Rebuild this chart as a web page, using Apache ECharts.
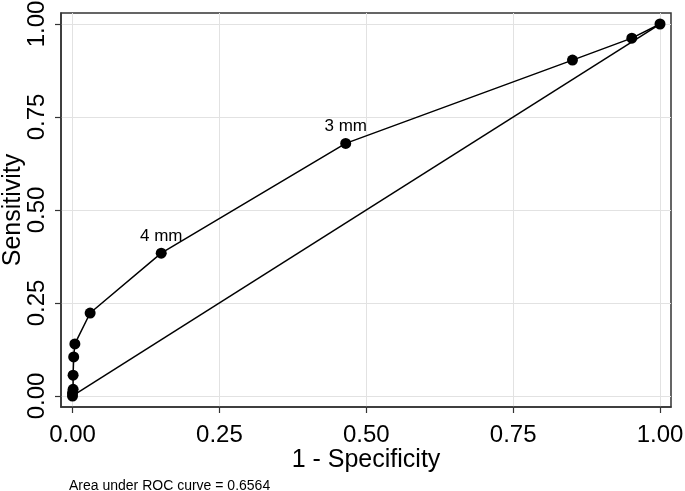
<!DOCTYPE html>
<html>
<head>
<meta charset="utf-8">
<script src="https://cdn.jsdelivr.net/npm/echarts@6/dist/echarts.min.js"></script>
<style>html,body{margin:0;padding:0;background:#fff}#c{width:685px;height:491px}</style>
</head>
<body>
<div id="c"></div>
<script>
// ROC points (1 - specificity, sensitivity)
var rocX = [0, 0, 0.001, 0.001, 0.002, 0.004, 0.030, 0.151, 0.465, 0.851, 0.952, 1];
var rocY = [0, 0.008, 0.018, 0.056, 0.105, 0.140, 0.223, 0.384, 0.679, 0.903, 0.962, 1];
var pointLabels = ['', '', '', '', '', '', '', '4 mm', '3 mm', '', '', ''];
var refX = [0, 1];
var refY = [0, 1];
var tickValues = [0, 0.25, 0.5, 0.75, 1];
var xTitle = '1 - Specificity';
var yTitle = 'Sensitivity';
var note = 'Area under ROC curve = 0.6564';

var FONT = 'Liberation Sans, Arial, sans-serif';
var rocData = rocX.map(function (x, i) {
  return {
    value: [x, rocY[i]],
    label: { show: pointLabels[i] !== '', formatter: pointLabels[i] }
  };
});
var refData = refX.map(function (x, i) { return [x, refY[i]]; });

var chart = echarts.init(document.getElementById('c'));
chart.setOption({
  animation: false,
  backgroundColor: '#fff',
  textStyle: { fontFamily: FONT },
  title: {
    text: note, left: 64, top: 474,
    textStyle: { fontSize: 14, fontWeight: 'normal', color: '#000', fontFamily: FONT }
  },
  grid: {
    left: 61, right: 14, top: 13, bottom: 84,
    outerBoundsMode: 'none', containLabel: false,
    show: true, borderColor: '#333', borderWidth: 1.5, backgroundColor: '#fff'
  },
  xAxis: {
    type: 'value', min: -0.0196, max: 1.0187,
    name: xTitle, nameLocation: 'middle', nameGap: 41, nameMoveOverlap: false,
    nameTextStyle: { fontSize: 25, color: '#000', fontFamily: FONT },
    axisLine: { show: true, onZero: false, lineStyle: { color: '#333', width: 1.5 } },
    axisTick: { show: true, customValues: tickValues, length: 6, lineStyle: { color: '#333', width: 1.2 } },
    axisLabel: { customValues: tickValues, margin: 16, fontSize: 24, color: '#000', fontFamily: FONT,
      formatter: function (v) { return v.toFixed(2); } },
    splitLine: { show: true, lineStyle: { color: '#e2e2e2', width: 1 } }
  },
  yAxis: {
    type: 'value', min: -0.0296, max: 1.0296,
    name: yTitle, nameLocation: 'middle', nameGap: 35, nameMoveOverlap: false,
    nameTextStyle: { fontSize: 25, color: '#000', fontFamily: FONT },
    axisLine: { show: true, onZero: false, lineStyle: { color: '#333', width: 1.5 } },
    axisTick: { show: true, customValues: tickValues, length: 6, lineStyle: { color: '#333', width: 1.2 } },
    axisLabel: { customValues: tickValues, margin: 12, fontSize: 24, rotate: 90, color: '#000', fontFamily: FONT,
      formatter: function (v) { return v.toFixed(2); } },
    splitLine: { show: true, lineStyle: { color: '#e2e2e2', width: 1 } }
  },
  series: [
    {
      type: 'line', data: refData, symbol: 'none',
      lineStyle: { color: '#000', width: 1.5 }, silent: true, z: 2
    },
    {
      type: 'line', data: rocData, symbol: 'circle', symbolSize: 11,
      itemStyle: { color: '#000' },
      lineStyle: { color: '#000', width: 1.5 },
      label: { position: 'top', distance: 3, fontSize: 17, color: '#000', fontFamily: FONT },
      z: 3
    }
  ]
});
</script>
</body>
</html>
